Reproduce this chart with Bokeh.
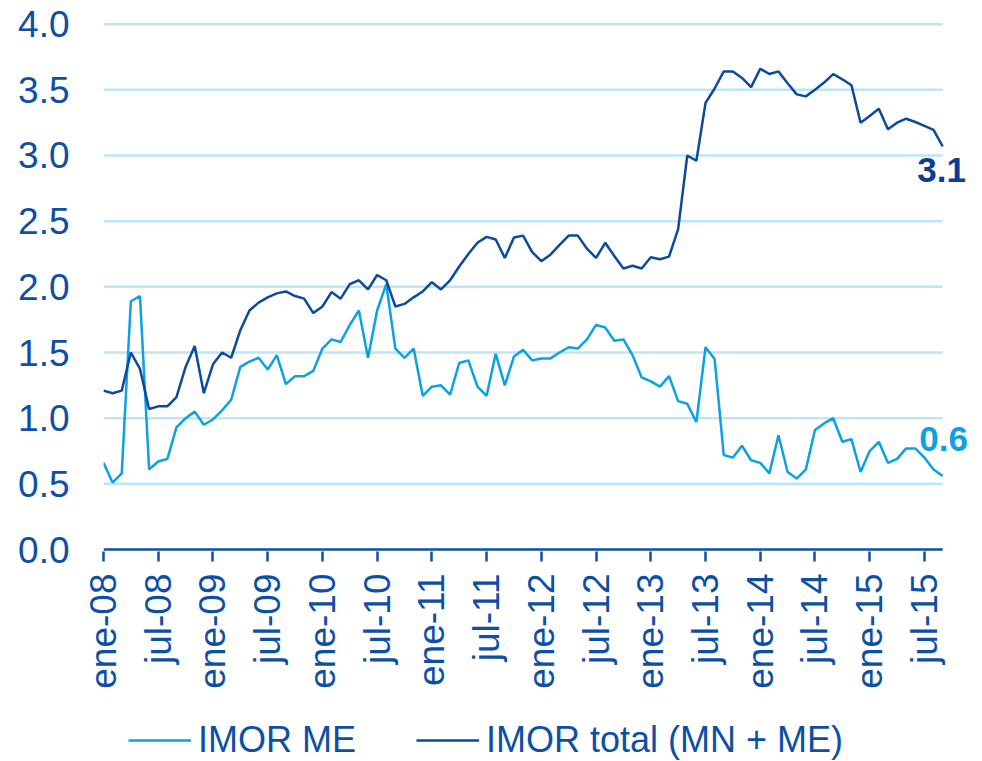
import math
from bokeh.plotting import figure
from bokeh.layouts import column
from bokeh.models import (Range1d, FixedTicker, Legend, LegendItem, Label,
                          NumeralTickFormatter)
from bokeh.embed import file_html
from bokeh.resources import INLINE

# Monthly data, ene-08 .. sep-15
imor_me = [0.66, 0.51, 0.58, 1.89, 1.93, 0.61, 0.67, 0.69, 0.93, 1.00,
           1.05, 0.95, 0.99, 1.06, 1.14, 1.39, 1.43, 1.46, 1.37, 1.48,
           1.26, 1.32, 1.32, 1.36, 1.53, 1.60, 1.58, 1.71, 1.82, 1.46,
           1.82, 2.02, 1.53, 1.46, 1.53, 1.17, 1.24, 1.25, 1.18, 1.42,
           1.44, 1.24, 1.17, 1.49, 1.25, 1.47, 1.52, 1.44, 1.455, 1.455,
           1.50, 1.54, 1.53, 1.60, 1.71, 1.69, 1.59, 1.60, 1.48, 1.31,
           1.28, 1.24, 1.32, 1.13, 1.11, 0.97, 1.54, 1.45, 0.72, 0.70,
           0.79, 0.68, 0.66, 0.58, 0.87, 0.59, 0.54, 0.61, 0.91, 0.96,
           1.00, 0.82, 0.84, 0.59, 0.75, 0.82, 0.66, 0.69, 0.77, 0.77,
           0.70, 0.61, 0.56]

imor_total = [1.21, 1.19, 1.21, 1.50, 1.375, 1.07, 1.09, 1.09, 1.16, 1.39,
              1.55, 1.19, 1.41, 1.50, 1.46, 1.67, 1.82, 1.88, 1.92, 1.95,
              1.965, 1.93, 1.91, 1.80, 1.85, 1.96, 1.91, 2.02, 2.05, 1.98,
              2.09, 2.05, 1.85, 1.87, 1.92, 1.965, 2.035, 1.98, 2.05, 2.155,
              2.25, 2.335, 2.38, 2.36, 2.22, 2.375, 2.39, 2.265, 2.195, 2.245,
              2.32, 2.39, 2.39, 2.29, 2.22, 2.335, 2.235, 2.14, 2.16, 2.14,
              2.225, 2.21, 2.23, 2.44, 3.00, 2.96, 3.40, 3.51, 3.64, 3.64,
              3.59, 3.52, 3.66, 3.62, 3.64, 3.55, 3.465, 3.45, 3.50, 3.555,
              3.62, 3.58, 3.535, 3.25, 3.30, 3.355, 3.20, 3.25, 3.28, 3.255,
              3.225, 3.195, 3.07]

tick_labels = ["ene-08", "jul-08", "ene-09", "jul-09", "ene-10", "jul-10",
               "ene-11", "jul-11", "ene-12", "jul-12", "ene-13", "jul-13",
               "ene-14", "jul-14", "ene-15", "jul-15"]
y_ticks = [0.0, 0.5, 1.0, 1.5, 2.0, 2.5, 3.0, 3.5, 4.0]

series_names = ["IMOR ME", "IMOR total (MN + ME)"]

months = list(range(len(imor_me)))
tick_pos = [6 * i for i in range(len(tick_labels))]
last = months[-1]

FONT = "Liberation Sans"
TXT = "#0E4FA6"
DARK = "#0B4A9C"
LIGHT = "#0BA1E2"
GRID = "#BDE5F7"

p = figure(width=982, height=705, output_backend="svg", toolbar_location=None,
           x_range=Range1d(0, 95.6), y_range=Range1d(-0.015, 4.02),
           min_border_left=103, min_border_right=7, min_border_top=21,
           min_border_bottom=154)
p.outline_line_color = None
p.background_fill_color = "white"

# horizontal grid lines stop at the last month
grid_y = [t for t in y_ticks if t > 0]
p.segment(x0=[0] * len(grid_y), x1=[last] * len(grid_y), y0=grid_y, y1=grid_y,
          line_color=GRID, line_width=2.5)
# baseline (x axis line)
p.segment(x0=[0], x1=[last], y0=[0], y1=[0], line_color=TXT, line_width=2.5)

p.line(months, imor_me, line_color=LIGHT, line_width=2.5)
p.line(months, imor_total, line_color=DARK, line_width=2.5)

# axes
p.yaxis.ticker = FixedTicker(ticks=y_ticks)
p.yaxis.formatter = NumeralTickFormatter(format="0.0")
p.yaxis.axis_line_color = None
p.yaxis.major_tick_line_color = None
p.yaxis.minor_tick_line_color = None
p.yaxis.major_label_text_font = FONT
p.yaxis.major_label_text_font_size = "37px"
p.yaxis.major_label_text_color = TXT
p.yaxis.major_label_standoff = 28

p.xaxis.ticker = FixedTicker(ticks=tick_pos)
p.xaxis.major_label_overrides = {t: l for t, l in zip(tick_pos, tick_labels)}
p.xaxis.axis_line_color = None
p.xaxis.major_tick_line_color = TXT
p.xaxis.major_tick_line_width = 2.5
p.xaxis.major_tick_out = 10
p.xaxis.major_tick_in = 0
p.xaxis.minor_tick_line_color = None
p.xaxis.major_label_orientation = math.pi / 2
p.xaxis.major_label_standoff = 12
p.xaxis.major_label_text_font = FONT
p.xaxis.major_label_text_font_size = "37px"
p.xaxis.major_label_text_color = TXT

p.xgrid.grid_line_color = None
p.ygrid.grid_line_color = None

# end-value labels
p.add_layout(Label(x=last, y=imor_total[-1], text=f"{imor_total[-1]:.1f}",
                   x_offset=-1, y_offset=-24, text_align="center",
                   text_baseline="middle", text_font=FONT, text_font_style="bold",
                   text_font_size="35px", text_color="#0A3E98"))
p.add_layout(Label(x=last, y=imor_me[-1], text=f"{imor_me[-1]:.1f}",
                   x_offset=1, y_offset=37, text_align="center",
                   text_baseline="middle", text_font=FONT, text_font_style="bold",
                   text_font_size="35px", text_color=LIGHT))

# legend strip below the chart (its frame is aligned with the chart's frame)
q = figure(width=982, height=56, output_backend="svg", toolbar_location=None,
           x_range=Range1d(0, 10), y_range=Range1d(0, 10),
           x_axis_type=None, y_axis_type=None,
           min_border_left=0, min_border_right=0, min_border_top=0,
           min_border_bottom=0)
q.outline_line_color = None
q.xgrid.grid_line_color = None
q.ygrid.grid_line_color = None
# legend proxies drawn outside the visible range
l_me = q.line(x=[-20, -19], y=[-20, -20], line_color=LIGHT, line_width=2.5)
l_tot = q.line(x=[-20, -19], y=[-20, -20], line_color=DARK, line_width=2.5)
legend = Legend(items=[LegendItem(label=series_names[0], renderers=[l_me]),
                       LegendItem(label=series_names[1], renderers=[l_tot])],
                orientation="horizontal", location=(25, 0),
                glyph_width=63, glyph_height=20, label_standoff=7, spacing=60,
                padding=0, margin=0, border_line_color=None,
                background_fill_alpha=0, label_text_font=FONT,
                label_text_font_size="36px", label_text_color=TXT)
q.add_layout(legend, "center")

layout = column(p, q, spacing=0)
open("out.html", "w").write(file_html(layout, INLINE))
